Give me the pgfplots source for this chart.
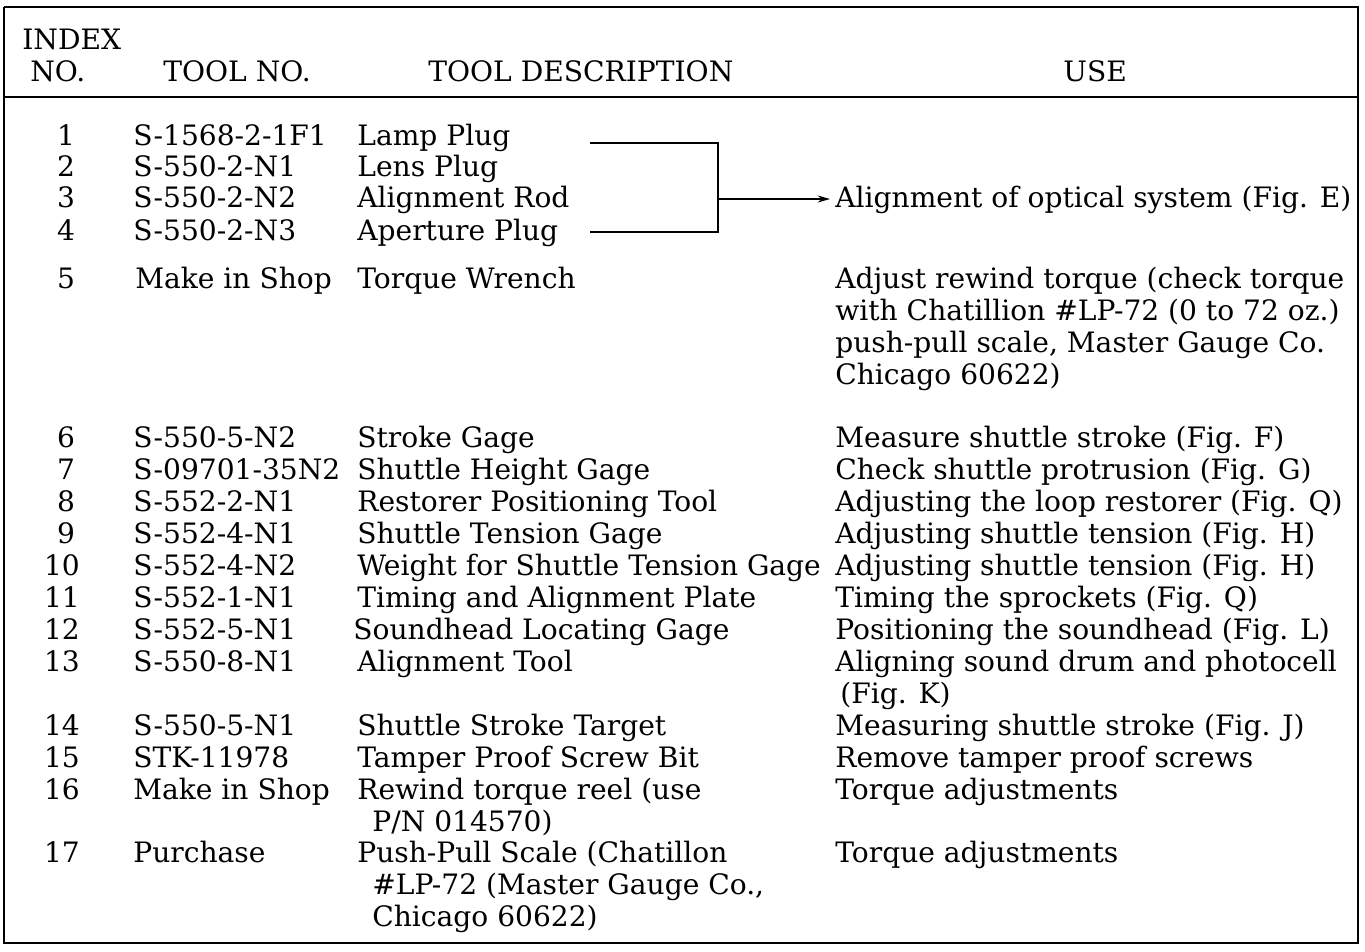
\documentclass[border=0pt]{standalone}
\usepackage{fontspec}
\setmainfont{DejaVu Serif}
\usepackage{pgfplots}
\pgfplotsset{compat=1.18}
\usetikzlibrary{arrows.meta}
\newcommand{\tabfont}{\fontsize{16}{19}\selectfont}
\newcommand{\T}[3]{\node[anchor=base west,inner sep=0pt,font=\tabfont] at (axis cs:#1,#2) {#3};}
\newcommand{\C}[3]{\node[anchor=base,inner sep=0pt,font=\tabfont] at (axis cs:#1,#2) {#3};}
\begin{document}
\begin{tikzpicture}
\begin{axis}[scale only axis, width=27.3cm, height=19.02cm,
  xmin=0, xmax=1365, ymin=0, ymax=951, y dir=reverse,
  hide axis, clip=false]
\addplot[draw=none, forget plot] coordinates {(0,0) (1365,951)};
% frame
\addplot[black, line width=1.6pt] coordinates {(4,7) (1358,7) (1358,943) (4,943) (4,7)};
\addplot[black, line width=1.3pt] coordinates {(4,97) (1358,97)};
% bracket
\addplot[black, line width=1.2pt] coordinates {(590,143) (718,143) (718,232) (590,232)};
\addplot[black, line width=1.0pt, -{Stealth[length=7pt,width=4pt]}] coordinates {(718,199) (830,199)};
% header
\T{22}{49}{INDEX}
\T{30}{81}{NO.}
\T{163}{81}{TOOL NO.}
\T{428}{81}{TOOL DESCRIPTION}
\T{1063}{81}{USE}
% rows
\C{66}{145}{1}  \T{133}{145}{S-1568-2-1F1} \T{357}{145}{Lamp Plug}
\C{66}{176}{2}  \T{133}{176}{S-550-2-N1}   \T{357}{176}{Lens Plug}
\C{66}{207}{3}  \T{133}{207}{S-550-2-N2}   \T{357}{207}{Alignment Rod}
\C{66}{240}{4}  \T{133}{240}{S-550-2-N3}   \T{357}{240}{Aperture Plug}
\T{835}{207}{Alignment of optical system (Fig. E)}
\C{66}{288}{5}  \T{135}{288}{Make in Shop} \T{357}{288}{Torque Wrench}
\T{835}{288}{Adjust rewind torque (check torque}
\T{835}{320}{with Chatillion \#LP-72 (0 to 72 oz.)}
\T{835}{352}{push-pull scale, Master Gauge Co.}
\T{835}{384}{Chicago 60622)}
\C{66}{447}{6}  \T{133}{447}{S-550-5-N2}   \T{357}{447}{Stroke Gage}           \T{835}{447}{Measure shuttle stroke (Fig. F)}
\C{66}{479}{7}  \T{133}{479}{S-09701-35N2} \T{357}{479}{Shuttle Height Gage}   \T{835}{479}{Check shuttle protrusion (Fig. G)}
\C{66}{511}{8}  \T{133}{511}{S-552-2-N1}   \T{357}{511}{Restorer Positioning Tool} \T{835}{511}{Adjusting the loop restorer (Fig. Q)}
\C{66}{543}{9}  \T{133}{543}{S-552-4-N1}   \T{357}{543}{Shuttle Tension Gage}  \T{835}{543}{Adjusting shuttle tension (Fig. H)}
\C{62}{575}{10} \T{133}{575}{S-552-4-N2}   \T{357}{575}{Weight for Shuttle Tension Gage} \T{835}{575}{Adjusting shuttle tension (Fig. H)}
\C{62}{607}{11} \T{133}{607}{S-552-1-N1}   \T{357}{607}{Timing and Alignment Plate} \T{835}{607}{Timing the sprockets (Fig. Q)}
\C{62}{639}{12} \T{133}{639}{S-552-5-N1}   \T{353}{639}{Soundhead Locating Gage} \T{835}{639}{Positioning the soundhead (Fig. L)}
\C{62}{671}{13} \T{133}{671}{S-550-8-N1}   \T{357}{671}{Alignment Tool}        \T{835}{671}{Aligning sound drum and photocell}
\T{840}{703}{(Fig. K)}
\C{62}{735}{14} \T{133}{735}{S-550-5-N1}   \T{357}{735}{Shuttle Stroke Target} \T{835}{735}{Measuring shuttle stroke (Fig. J)}
\C{62}{767}{15} \T{133}{767}{STK-11978}    \T{357}{767}{Tamper Proof Screw Bit} \T{835}{767}{Remove tamper proof screws}
\C{62}{799}{16} \T{133}{799}{Make in Shop} \T{357}{799}{Rewind torque reel (use} \T{835}{799}{Torque adjustments}
\T{372}{831}{P/N 014570)}
\C{62}{862}{17} \T{133}{862}{Purchase}     \T{357}{862}{Push-Pull Scale (Chatillon} \T{835}{862}{Torque adjustments}
\T{372}{894}{\#LP-72 (Master Gauge Co.,}
\T{372}{926}{Chicago 60622)}
\end{axis}
\end{tikzpicture}
\end{document}
